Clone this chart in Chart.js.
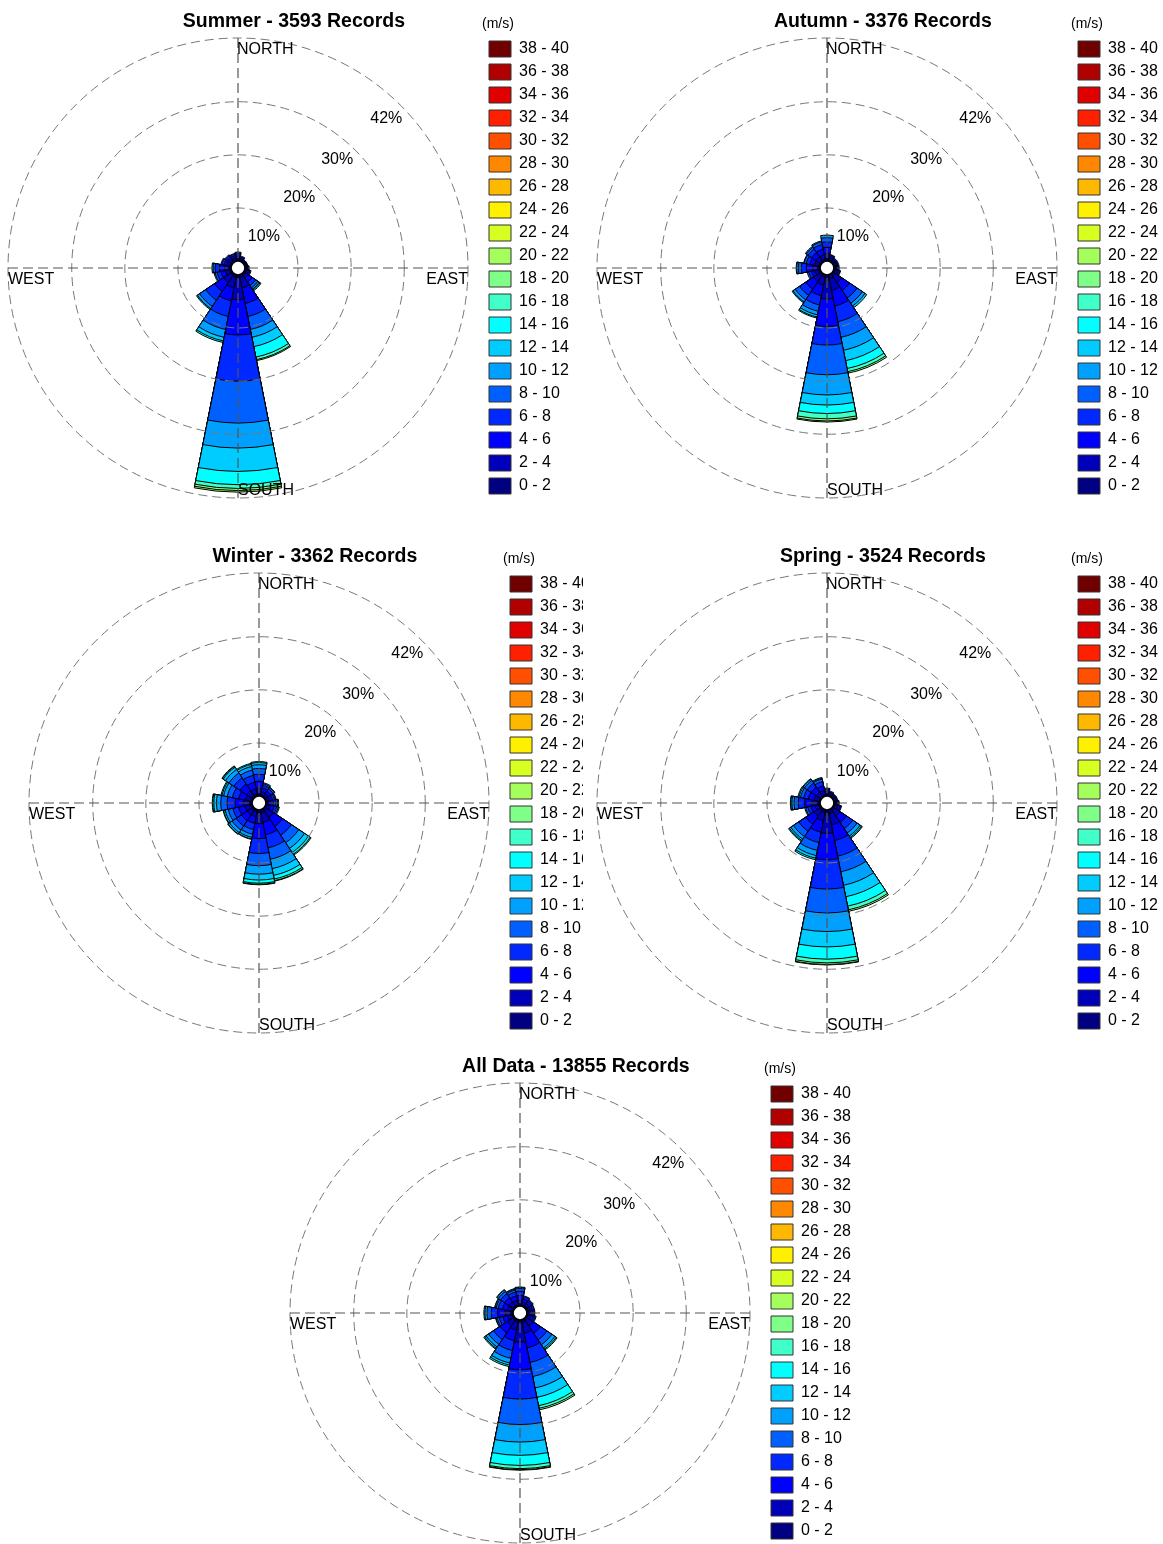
<!DOCTYPE html>
<html>
<head>
<meta charset="utf-8">
<script src="https://cdn.jsdelivr.net/npm/chart.js@4.4.1/dist/chart.umd.min.js"></script>
<style>
    body { margin: 0; width: 1163px; height: 1544px; overflow: hidden; background: #fff; position: relative; }
    canvas { position: absolute; background: #fff; }
</style>
</head>
<body>
<canvas id="summer" width="600" height="520" style="left:-6px;top:0px"></canvas>
<canvas id="autumn" width="600" height="520" style="left:583px;top:0px"></canvas>
<canvas id="winter" width="600" height="520" style="left:15px;top:535px"></canvas>
<canvas id="spring" width="600" height="520" style="left:583px;top:535px"></canvas>
<canvas id="alldata" width="600" height="520" style="left:276px;top:1045px"></canvas>
<script>
const directions = ['N', 'NNE', 'NE', 'ENE', 'E', 'ESE', 'SE', 'SSE', 'S', 'SSW', 'SW', 'WSW', 'W', 'WNW', 'NW', 'NNW']
const speedBins = ['0 - 2', '2 - 4', '4 - 6', '6 - 8', '8 - 10', '10 - 12', '12 - 14', '14 - 16', '16 - 18', '18 - 20',
    '20 - 22', '22 - 24', '24 - 26', '26 - 28', '28 - 30', '30 - 32', '32 - 34', '34 - 36', '36 - 38', '38 - 40']
const binColors = ['#000080', '#0000bb', '#0000ff', '#0028ff', '#0060ff', '#00a0ff', '#00ccff', '#00ffff', '#40ffc8', '#80ff88',
    '#a4ff5c', '#d8ff22', '#fff000', '#ffb800', '#ff8800', '#ff5000', '#ff2000', '#e00000', '#b00000', '#700000']
const ringTicks = [10, 20, 30, 42]

// percent of records per speed bin (from 0 - 2 upward), one row per direction N..NNW
const summer = [
    [0.3, 0.5, 0.4, 0.3, 0.2],
    [0.3, 0.3, 0.2, 0.2],
    [0.2, 0.2, 0.1, 0.1],
    [0.2, 0.2, 0.1, 0.1],
    [0.2, 0.3, 0.2, 0.1],
    [0.3, 0.4, 0.3, 0.2],
    [0.3, 0.7, 0.9, 0.8, 0.5, 0.3, 0.2, 0.2],
    [0.5, 2.0, 3.0, 2.5, 2.5, 1.5, 1.8, 2.0, 0.5, 0.2],
    [0.6, 4.1, 6.6, 8.7, 7.9, 4.7, 4.4, 2.5, 0.7, 0.4, 0.3],
    [0.5, 2.0, 2.5, 3.0, 2.5, 1.5, 0.7, 0.3],
    [0.4, 1.6, 2.0, 2.0, 1.4, 0.5, 0.2],
    [0.3, 0.8, 0.9, 0.7, 0.4, 0.2],
    [0.3, 0.9, 1.0, 0.8, 0.4, 0.2],
    [0.3, 0.6, 0.5, 0.4, 0.2],
    [0.3, 0.5, 0.4, 0.3, 0.2],
    [0.3, 0.4, 0.4, 0.3, 0.1]
]
const autumn = [
    [0.4, 1.0, 1.2, 1.0, 0.8, 0.5],
    [0.3, 0.4, 0.3, 0.2, 0.1],
    [0.3, 0.3, 0.2, 0.2],
    [0.3, 0.3, 0.2, 0.2],
    [0.3, 0.3, 0.2, 0.2],
    [0.3, 0.4, 0.3, 0.2, 0.1],
    [0.5, 1.5, 1.8, 1.7, 1.2, 0.6, 0.4],
    [0.8, 2.2, 3.0, 3.0, 3.0, 2.5, 2.0, 1.5, 0.6, 0.3],
    [1.0, 3.5, 5.2, 3.5, 5.6, 3.8, 1.9, 1.6, 1.0, 0.4, 0.2],
    [0.5, 1.5, 2.0, 1.8, 1.2, 0.7, 0.4, 0.2],
    [0.5, 1.3, 1.7, 1.4, 1.0, 0.5, 0.2],
    [0.3, 0.7, 0.7, 0.5, 0.3],
    [0.4, 1.0, 1.2, 0.9, 0.6, 0.3, 0.1],
    [0.3, 0.8, 0.9, 0.7, 0.4, 0.1],
    [0.3, 0.9, 1.0, 0.8, 0.4, 0.2],
    [0.3, 0.9, 1.1, 0.9, 0.5, 0.2]
]
const winter = [
    [0.4, 1.0, 1.4, 1.3, 1.1, 0.7, 0.4, 0.2],
    [0.3, 0.6, 0.7, 0.5, 0.3, 0.2],
    [0.3, 0.5, 0.6, 0.5, 0.3, 0.1],
    [0.3, 0.5, 0.5, 0.4, 0.2, 0.1],
    [0.3, 0.5, 0.6, 0.5, 0.3, 0.2],
    [0.3, 0.6, 0.7, 0.5, 0.3, 0.2],
    [0.5, 1.5, 2.0, 2.0, 1.7, 1.3, 0.9, 0.4, 0.2],
    [0.6, 1.8, 2.4, 2.5, 2.2, 1.8, 1.3, 0.7, 0.3, 0.1],
    [0.6, 2.0, 2.8, 2.8, 2.3, 1.6, 1.1, 0.6, 0.2, 0.1],
    [0.4, 0.9, 1.3, 1.2, 0.9, 0.6, 0.3, 0.1],
    [0.4, 1.0, 1.3, 1.2, 0.9, 0.6, 0.3, 0.1],
    [0.4, 1.0, 1.2, 1.1, 0.9, 0.6, 0.3, 0.1],
    [0.4, 1.2, 1.6, 1.5, 1.2, 0.8, 0.5, 0.2, 0.1],
    [0.4, 0.9, 1.3, 1.2, 1.0, 0.7, 0.3, 0.2],
    [0.4, 1.1, 1.5, 1.4, 1.1, 0.8, 0.5, 0.2, 0.1],
    [0.4, 1.0, 1.3, 1.3, 1.0, 0.7, 0.4, 0.2]
]
const spring = [
    [0.3, 0.5, 0.4, 0.2, 0.1],
    [0.3, 0.3, 0.2, 0.2],
    [0.2, 0.3, 0.2, 0.1],
    [0.2, 0.3, 0.2, 0.1],
    [0.3, 0.3, 0.2, 0.2],
    [0.3, 0.5, 0.4, 0.2, 0.1],
    [0.4, 1.2, 1.5, 1.4, 1.0, 0.7, 0.3, 0.2],
    [0.7, 2.2, 3.0, 3.0, 3.0, 2.6, 2.2, 1.8, 0.7, 0.3],
    [0.9, 3.5, 5.0, 5.5, 4.5, 3.5, 2.9, 2.3, 0.7, 0.3, 0.1],
    [0.5, 1.6, 2.2, 2.0, 1.5, 1.0, 0.5, 0.3],
    [0.4, 1.3, 1.8, 1.6, 1.2, 0.6, 0.3, 0.2],
    [0.3, 0.7, 0.8, 0.6, 0.4, 0.2],
    [0.4, 1.1, 1.4, 1.2, 0.8, 0.4, 0.2, 0.1],
    [0.3, 0.9, 1.1, 0.9, 0.6, 0.3, 0.2],
    [0.3, 0.9, 1.1, 0.9, 0.6, 0.3, 0.1],
    [0.3, 0.8, 0.9, 0.8, 0.5, 0.2, 0.1]
]
const allData = [
    [0.3, 0.8, 0.9, 0.8, 0.5, 0.2, 0.1],
    [0.3, 0.5, 0.6, 0.4, 0.2],
    [0.3, 0.5, 0.5, 0.3, 0.1],
    [0.3, 0.4, 0.4, 0.3, 0.1],
    [0.3, 0.4, 0.4, 0.3, 0.1],
    [0.3, 0.5, 0.5, 0.3, 0.2],
    [0.4, 1.3, 1.6, 1.5, 1.1, 0.7, 0.3, 0.2],
    [0.6, 2.0, 2.8, 2.8, 2.7, 2.2, 1.8, 1.6, 0.5, 0.3],
    [0.8, 3.4, 5.2, 5.5, 4.8, 3.3, 2.5, 1.9, 0.6, 0.2, 0.1],
    [0.5, 1.5, 2.0, 1.9, 1.5, 0.9, 0.4, 0.3],
    [0.4, 1.2, 1.6, 1.5, 1.1, 0.6, 0.3, 0.2],
    [0.3, 0.8, 0.9, 0.7, 0.4, 0.2, 0.1],
    [0.4, 1.1, 1.4, 1.2, 0.8, 0.4, 0.2],
    [0.3, 0.8, 1.0, 0.8, 0.4, 0.2, 0.1],
    [0.3, 0.9, 1.0, 0.9, 0.5, 0.3, 0.1],
    [0.3, 0.8, 0.9, 0.7, 0.4, 0.2, 0.1]
]

const fontFamily = '"Liberation Sans", Arial, sans-serif'
Chart.defaults.font.family = fontFamily
Chart.defaults.color = '#000'

// legend width is measured so that the rose area stays 488px wide
const measureCtx = document.createElement('canvas').getContext('2d')
measureCtx.font = '16px ' + fontFamily
const legendTextW = Math.max(...speedBins.map(t => measureCtx.measureText(t).width))
const spacerW = 15
const padRight = 600 - 488 - (7 + 22 + 8 + legendTextW + 10) - spacerW

// each speed bin becomes one polar dataset holding the running total, so the
// smaller totals are painted over the larger ones and look stacked
function stackedSets(freq) {
    return speedBins.map((label, k) => ({
        label: label,
        data: freq.map(row => (row[k] || 0) > 0 ? row.slice(0, k + 1).reduce((a, b) => a + b, 0) : 0),
        backgroundColor: binColors[k],
        borderColor: '#000',
        borderWidth: 1
    }))
}

// invisible axis used only to reserve space in the layout
function spacer(position, size, weight) {
    return {
        type: 'linear',
        position: position,
        weight: weight,
        grid: { display: false },
        border: { display: false },
        ticks: { display: false },
        afterFit: axis => {
            if (position === 'right') axis.width = size
            else axis.height = size
        }
    }
}

const roseDecor = {
    id: 'roseDecor',
    afterDraw(chart) {
        const s = chart.scales.r
        const ctx = chart.ctx
        const cx = s.xCenter, cy = s.yCenter, R = s.drawingArea
        ctx.save()
        // compass cross
        ctx.strokeStyle = '#555'
        ctx.lineWidth = 1.2
        ctx.setLineDash([10, 5])
        ctx.beginPath()
        ctx.moveTo(cx, cy - R)
        ctx.lineTo(cx, cy + R)
        ctx.moveTo(cx - R, cy)
        ctx.lineTo(cx + R, cy)
        ctx.stroke()
        // calm hole in the middle
        ctx.setLineDash([])
        const hole = s.getDistanceFromCenterForValue(0)
        ctx.fillStyle = '#fff'
        ctx.strokeStyle = '#000'
        ctx.lineWidth = 1.5
        ctx.beginPath()
        ctx.arc(cx, cy, hole, 0, 2 * Math.PI)
        ctx.fill()
        ctx.stroke()
        // ring labels along the NE diagonal
        ctx.font = '16px ' + fontFamily
        ctx.fillStyle = '#000'
        ctx.textAlign = 'center'
        ctx.textBaseline = 'middle'
        ringTicks.forEach(v => {
            const a = (36 + 0.2 * v) * Math.PI / 180
            const r = s.getDistanceFromCenterForValue(v) - 18
            ctx.fillText(v + '%', cx + r * Math.sin(a), cy - r * Math.cos(a) + 2)
        })
        // compass words
        ctx.textAlign = 'left'
        ctx.fillText('NORTH', cx - 1, cy - R + 12)
        ctx.fillText('SOUTH', cx, cy + R - 7)
        ctx.fillText('WEST', cx - R, cy + 12)
        ctx.textAlign = 'right'
        ctx.fillText('EAST', cx + R, cy + 12)
        ctx.restore()
    }
}

function makeRose(id, title, freq) {
    new Chart(document.getElementById(id), {
        type: 'polarArea',
        data: {
            labels: directions,
            datasets: stackedSets(freq)
        },
        options: {
            responsive: false,
            animation: false,
            layout: { padding: { left: 0, right: padRight, top: 0, bottom: 1 } },
            scales: {
                r: {
                    min: -1.3,
                    max: 42,
                    startAngle: -11.25,
                    ticks: { display: false },
                    afterBuildTicks: axis => {
                        axis.ticks = ringTicks.map(v => ({ value: v }))
                    },
                    grid: { color: '#777', lineWidth: 1, circular: true, z: 1 },
                    border: { dash: [9, 5] },
                    angleLines: { display: false },
                    pointLabels: { display: false }
                },
                // keeps the title centred on the whole panel
                spaceRight: spacer('right', spacerW, 2000),
                // lets the legend run below the rose without wrapping
                spaceBottom: spacer('bottom', 20, 0)
            },
            plugins: {
                title: {
                    display: true,
                    text: title,
                    color: '#000',
                    font: { size: 19.5, weight: 'bold' },
                    padding: { top: 10.3, bottom: 4.3 }
                },
                legend: {
                    position: 'right',
                    align: 'start',
                    title: {
                        display: true,
                        text: '(m/s)',
                        position: 'start',
                        font: { size: 14 },
                        padding: { top: 17, bottom: 0.2 }
                    },
                    labels: {
                        boxWidth: 22,
                        boxHeight: 16,
                        padding: 7,
                        color: '#000',
                        font: { size: 16 },
                        generateLabels: () => speedBins.map((t, i) => i).reverse().map(i => ({
                            text: speedBins[i],
                            fillStyle: binColors[i],
                            strokeStyle: '#333',
                            lineWidth: 1,
                            hidden: false,
                            datasetIndex: i
                        }))
                    }
                },
                tooltip: { enabled: false }
            }
        },
        plugins: [roseDecor]
    })
}

makeRose('summer', 'Summer - 3593 Records', summer)
makeRose('autumn', 'Autumn - 3376 Records', autumn)
makeRose('winter', 'Winter - 3362 Records', winter)
makeRose('spring', 'Spring - 3524 Records', spring)
makeRose('alldata', 'All Data - 13855 Records', allData)
</script>
</body>
</html>
